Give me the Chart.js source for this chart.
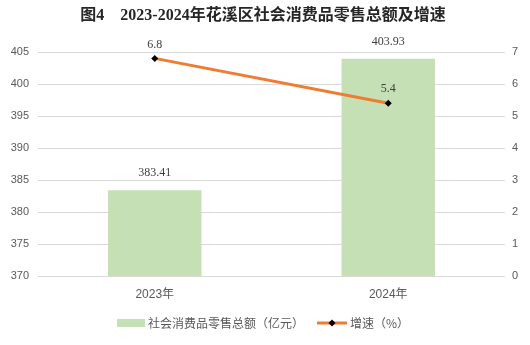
<!DOCTYPE html>
<html>
<head>
<meta charset="utf-8">
<script src="https://cdn.jsdelivr.net/npm/chart.js@4"></script>
<style>
  html, body { margin: 0; padding: 0; background: #fff; }
</style>
</head>
<body>
<canvas id="chart" width="530" height="345"></canvas>
<script>
// data
const categories = ['2023年', '2024年'];
const salesValues = [383.41, 403.93];   // 社会消费品零售总额（亿元）
const growthValues = [6.8, 5.4];        // 增速（%）
const leftTicks = [370, 375, 380, 385, 390, 395, 400, 405];
const rightTicks = [0, 1, 2, 3, 4, 5, 6, 7];

const titleText = '图4　2023-2024年花溪区社会消费品零售总额及增速';
const salesLabel = '社会消费品零售总额（亿元）';
const growthLabel = '增速（%）';

const cjk = '"Noto Sans CJK SC", sans-serif';

// title, value labels and legend
const extras = {
  id: 'extras',
  afterDatasetsDraw(chart) {
    const ctx = chart.ctx;
    ctx.save();
    ctx.fillStyle = '#404040';
    ctx.font = '12px "Liberation Serif", serif';
    ctx.textAlign = 'center';
    ctx.textBaseline = 'middle';
    chart.getDatasetMeta(0).data.forEach(function(el, i) {
      ctx.fillText(salesValues[i].toFixed(2), el.x, el.y - 17);
    });
    chart.getDatasetMeta(1).data.forEach(function(el, i) {
      ctx.fillText(growthValues[i].toFixed(1), el.x, el.y - 14);
    });
    ctx.restore();
  },
  afterDraw(chart) {
    const ctx = chart.ctx;
    ctx.save();
    // title
    ctx.fillStyle = '#262626';
    ctx.font = 'bold 16px "Liberation Serif", "Noto Sans CJK SC", serif';
    ctx.textAlign = 'center';
    ctx.textBaseline = 'middle';
    ctx.fillText(titleText, 263, 16);

    // legend
    const ly = 323;
    ctx.fillStyle = '#C5E0B4';
    ctx.fillRect(117, ly - 4, 28, 8);
    ctx.fillStyle = '#595959';
    ctx.font = '12px ' + cjk;
    ctx.textAlign = 'left';
    ctx.fillText(salesLabel, 148, ly);

    ctx.strokeStyle = '#ED7D31';
    ctx.lineWidth = 3;
    ctx.beginPath();
    ctx.moveTo(317, ly);
    ctx.lineTo(347, ly);
    ctx.stroke();
    ctx.fillStyle = '#000';
    ctx.beginPath();
    ctx.moveTo(332, ly - 3.5);
    ctx.lineTo(335.5, ly);
    ctx.lineTo(332, ly + 3.5);
    ctx.lineTo(328.5, ly);
    ctx.closePath();
    ctx.fill();
    ctx.fillStyle = '#595959';
    ctx.fillText(growthLabel, 350, ly);
    ctx.restore();
  }
};

const tickFont = { family: '"Liberation Sans", ' + cjk, size: 11 };

new Chart(document.getElementById('chart').getContext('2d'), {
  type: 'bar',
  data: {
    labels: categories,
    datasets: [{
      type: 'bar',
      label: salesLabel,
      data: salesValues,
      backgroundColor: '#C5E0B4',
      barPercentage: 0.4,
      categoryPercentage: 1.0,
      yAxisID: 'y',
      order: 1
    }, {
      type: 'line',
      label: growthLabel,
      data: growthValues,
      borderColor: '#ED7D31',
      borderWidth: 3,
      pointStyle: 'rectRot',
      pointRadius: 3.5,
      pointBackgroundColor: '#000',
      pointBorderColor: '#000',
      pointBorderWidth: 0,
      yAxisID: 'y1',
      order: 0
    }]
  },
  options: {
    responsive: false,
    animation: false,
    devicePixelRatio: 1,
    layout: { padding: { top: 52, bottom: 39, left: 0, right: 0 } },
    plugins: {
      legend: { display: false },
      title: { display: false },
      tooltip: { enabled: false }
    },
    scales: {
      x: {
        grid: { display: false },
        border: { display: false },
        ticks: { color: '#595959', font: { family: '"Liberation Sans", ' + cjk, size: 12 }, padding: 3 },
        afterFit: function(s) { s.height = 30; }
      },
      y: {
        position: 'left',
        min: leftTicks[0],
        max: leftTicks[leftTicks.length - 1],
        afterBuildTicks: function(s) { s.ticks = leftTicks.map(v => ({ value: v })); },
        grid: { color: '#d9d9d9', drawTicks: false },
        border: { display: false },
        ticks: { color: '#595959', font: tickFont, padding: 9 },
        afterFit: function(s) { s.width = 38; }
      },
      y1: {
        position: 'right',
        min: rightTicks[0],
        max: rightTicks[rightTicks.length - 1],
        afterBuildTicks: function(s) { s.ticks = rightTicks.map(v => ({ value: v })); },
        grid: { drawOnChartArea: false, drawTicks: false },
        border: { display: false },
        ticks: { color: '#595959', font: tickFont, padding: 7 },
        afterFit: function(s) { s.width = 25; }
      }
    }
  },
  plugins: [extras]
});
</script>
</body>
</html>
